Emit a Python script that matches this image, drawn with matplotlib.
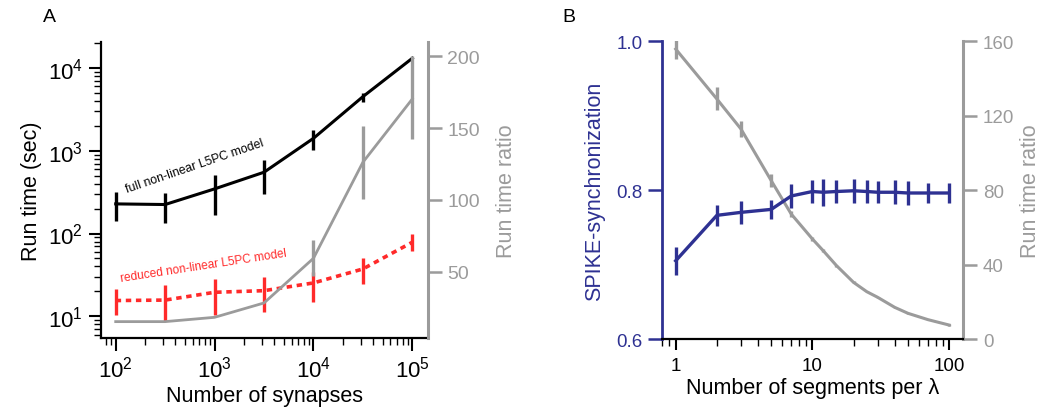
import numpy as np
import matplotlib
matplotlib.use("Agg")
import matplotlib.pyplot as plt
from matplotlib.ticker import LogLocator, FixedLocator, NullFormatter, FixedFormatter

plt.rcParams['font.family'] = ['Liberation Sans', 'DejaVu Sans']
plt.rcParams['mathtext.fontset'] = 'custom'
plt.rcParams['mathtext.rm'] = 'Liberation Sans'
plt.rcParams['mathtext.it'] = 'Liberation Sans:italic'
plt.rcParams['mathtext.bf'] = 'Liberation Sans:bold'

# ---------------- Panel A data ----------------
synapses = [100, 316, 1000, 3162, 10000, 31623, 100000]
full_time = [228, 224, 346, 550, 1412, 4500, 13100]
full_lo = [140, 133, 168, 300, 1030, 3920, 13100]
full_hi = [318, 307, 513, 782, 1778, 4950, 13100]
red_time = [15.5, 15.7, 19.5, 20.4, 25.3, 37.3, 78.5]
red_lo = [10.4, 8.7, 10.4, 11.2, 14.8, 24.5, 62]
red_hi = [21.1, 23.8, 28.3, 29.6, 34.1, 50, 99]
ratio_a = [15.2, 15.2, 18.2, 28.2, 59.3, 126.2, 170.3]
ratio_a_lo = [15.2, 15.2, 18.2, 28.2, 47.2, 100.6, 142.4]
ratio_a_hi = [15.2, 15.2, 18.2, 28.2, 72.3, 151.7, 200]
a_xticklabels = [r'$10^2$', r'$10^3$', r'$10^4$', r'$10^5$']
a_yticklabels = [r'$10^1$', r'$10^2$', r'$10^3$', r'$10^4$']

# ---------------- Panel B data ----------------
segments = [1, 2, 3, 5, 7, 10, 12, 15, 20, 25, 30, 40, 50, 70, 100]
spike_sync = [0.705, 0.766, 0.770, 0.774, 0.792, 0.798, 0.797, 0.798, 0.799,
              0.798, 0.797, 0.797, 0.796, 0.796, 0.796]
spike_err = [0.019, 0.014, 0.015, 0.013, 0.016, 0.015, 0.018, 0.015, 0.016,
             0.015, 0.015, 0.016, 0.016, 0.014, 0.014]
ratio_b = [155.7, 128.9, 112.8, 85.0, 67.1, 53.7, 47.4, 39.4, 30.4, 25.4,
           22.4, 17.0, 13.8, 10.4, 7.5]
ratio_b_err = [5.5, 6.2, 4.2, 3.6, 1.5, 1.0, 0.8, 0.6, 0.5, 0.4, 0.4, 0.3,
               0.3, 0.3, 0.3]

BLUE = '#2e3192'
GRAY = '#9b9b9b'
RED = '#ff2a2a'

fig = plt.figure(figsize=(10.42, 4.10), dpi=100)

# ================= Panel A =================
axA = fig.add_axes([0.0969, 0.1732, 0.3136, 0.7220])
axA.set_xscale('log')
axA.set_yscale('log')
axA.set_xlim(10**1.851, 10**5.156)
axA.set_ylim(10**0.738, 10**4.314)

axA2 = axA.twinx()
axA2.set_ylim(3.8, 210)

fl = np.array(full_time); fl_lo = fl - np.array(full_lo); fl_hi = np.array(full_hi) - fl
axA.errorbar(synapses, full_time, yerr=[fl_lo, fl_hi], color='black', lw=2.2,
             elinewidth=2.4, capsize=0, zorder=3)
rl = np.array(red_time); rl_lo = rl - np.array(red_lo); rl_hi = np.array(red_hi) - rl
axA.errorbar(synapses, red_time, yerr=[rl_lo, rl_hi], color=RED, lw=2.6,
             ls=(0, (1.5, 1.3)), elinewidth=2.4, capsize=0, zorder=3)
ga = np.array(ratio_a); ga_lo = ga - np.array(ratio_a_lo); ga_hi = np.array(ratio_a_hi) - ga
axA2.errorbar(synapses, ratio_a, yerr=[ga_lo, ga_hi], color=GRAY, lw=2.0,
              elinewidth=2.4, capsize=0)

axA.xaxis.set_major_locator(FixedLocator([1e2, 1e3, 1e4, 1e5]))
axA.xaxis.set_major_formatter(FixedFormatter(a_xticklabels))
axA.xaxis.set_minor_locator(LogLocator(base=10, subs=np.arange(2, 10)))
axA.xaxis.set_minor_formatter(NullFormatter())
axA.yaxis.set_major_locator(FixedLocator([1e1, 1e2, 1e3, 1e4]))
axA.yaxis.set_major_formatter(FixedFormatter(a_yticklabels))
axA.yaxis.set_minor_locator(LogLocator(base=10, subs=np.arange(2, 10)))
axA.yaxis.set_minor_formatter(NullFormatter())

axA.tick_params(axis='both', which='major', length=9, width=1.5, labelsize=16, pad=4)
axA.tick_params(axis='both', which='minor', length=5, width=1.0)
for s in ['top', 'right']:
    axA.spines[s].set_visible(False)
for s in ['left', 'bottom']:
    axA.spines[s].set_linewidth(1.6)
for s in ['top', 'left', 'bottom']:
    axA2.spines[s].set_visible(False)
axA2.spines['right'].set_color(GRAY)
axA2.spines['right'].set_linewidth(2.2)
axA2.set_yticks([50, 100, 150, 200])
axA2.tick_params(axis='y', length=10, width=1.8, color=GRAY, labelcolor=GRAY,
                 labelsize=14, pad=4)

axA.set_xlabel('Number of synapses', fontsize=15.5, labelpad=2)
axA.set_ylabel('Run time (sec)', fontsize=15.5, labelpad=4)
axA2.set_ylabel('Run time ratio', fontsize=15.5, color=GRAY, labelpad=12)

axA.text(0.286, 0.583, 'full non-linear L5PC model', transform=axA.transAxes,
         rotation=18.9, fontsize=8.8, ha='center', va='center', color='black',
         rotation_mode='anchor')
axA.text(0.314, 0.247, 'reduced non-linear L5PC model', transform=axA.transAxes,
         rotation=8.7, fontsize=8.6, ha='center', va='center', color=RED,
         rotation_mode='anchor')

fig.text(49 / 1042, 1 - 18 / 410, 'A', fontsize=14, ha='center', va='center')

# ================= Panel B =================
axB = fig.add_axes([0.6356, 0.1707, 0.2889, 0.7268])
axB.set_xscale('log')
axB.set_xlim(0.798, 127)
axB.set_ylim(0.6, 1.0)
axB2 = axB.twinx()
axB2.set_ylim(0, 160)

axB.errorbar(segments, spike_sync, yerr=spike_err, color=BLUE, lw=2.4,
             elinewidth=2.4, capsize=0, zorder=3)
axB2.errorbar(segments, ratio_b, yerr=ratio_b_err, color=GRAY, lw=2.2,
              elinewidth=2.4, capsize=0)
axB.set_zorder(axB2.get_zorder() + 1)
axB.patch.set_visible(False)

axB.xaxis.set_major_locator(FixedLocator([1, 10, 100]))
axB.xaxis.set_major_formatter(FixedFormatter(['1', '10', '100']))
axB.xaxis.set_minor_locator(LogLocator(base=10, subs=np.arange(2, 10)))
axB.xaxis.set_minor_formatter(NullFormatter())
axB.set_yticks([0.6, 0.8, 1.0])
axB.set_yticklabels(['0.6', '0.8', '1.0'])
axB.tick_params(axis='x', which='major', length=8, width=1.5, labelsize=13.5, pad=5)
axB.tick_params(axis='x', which='minor', length=5, width=1.0)
axB.tick_params(axis='y', length=10, width=1.8, color=BLUE, labelcolor=BLUE,
                labelsize=13.5, pad=4)
for s in ['top', 'right']:
    axB.spines[s].set_visible(False)
axB.spines['left'].set_color(BLUE)
axB.spines['left'].set_linewidth(2.0)
axB.spines['bottom'].set_linewidth(1.6)
for s in ['top', 'left', 'bottom']:
    axB2.spines[s].set_visible(False)
axB2.spines['right'].set_color(GRAY)
axB2.spines['right'].set_linewidth(2.2)
axB2.set_yticks([0, 40, 80, 120, 160])
axB2.tick_params(axis='y', length=10, width=1.8, color=GRAY, labelcolor=GRAY,
                 labelsize=13.5, pad=4)

axB.set_xlabel('Number of segments per λ', fontsize=15.5, labelpad=2)
axB.set_ylabel('SPIKE-synchronization', fontsize=15.5, color=BLUE, labelpad=8)
axB2.set_ylabel('Run time ratio', fontsize=15.5, color=GRAY, labelpad=4)

fig.text(569 / 1042, 1 - 18 / 410, 'B', fontsize=14, ha='center', va='center')

fig.savefig('out.png', dpi=100)
